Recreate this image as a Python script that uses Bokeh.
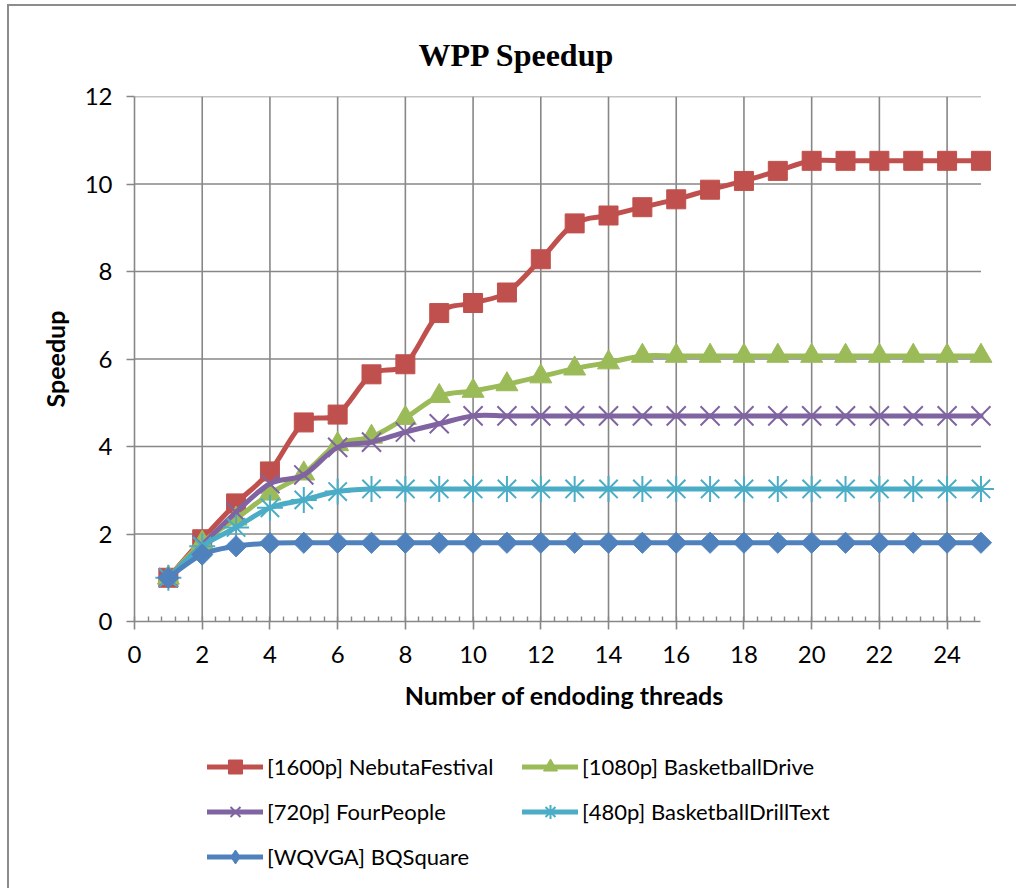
import numpy as np
from bokeh.plotting import figure
from bokeh.layouts import column
from bokeh.models import (Range1d, Legend, LegendItem, FixedTicker,
                          SingleIntervalTicker, Title)
from bokeh.embed import file_html
from bokeh.resources import INLINE

# ---- data -------------------------------------------------------------
threads = [1, 2, 3, 4, 5, 6, 7, 8, 9, 10, 11, 12, 13, 14, 15, 16, 17, 18,
           19, 20, 21, 22, 23, 24, 25]

nebuta_festival = [1.00, 1.88, 2.70, 3.43, 4.55, 4.73, 5.65, 5.88, 7.05, 7.28,
                   7.52, 8.28, 9.10, 9.28, 9.47, 9.65, 9.87, 10.07, 10.30,
                   10.53, 10.53, 10.53, 10.53, 10.53, 10.53]
basketball_drive = [1.00, 1.80, 2.35, 2.92, 3.38, 4.05, 4.22, 4.65, 5.15, 5.27,
                    5.42, 5.60, 5.78, 5.92, 6.07, 6.07, 6.07, 6.07, 6.07, 6.07,
                    6.07, 6.07, 6.07, 6.07, 6.07]
four_people = [1.00, 1.75, 2.50, 3.15, 3.35, 3.98, 4.10, 4.33, 4.52, 4.70,
               4.70, 4.70, 4.70, 4.70, 4.70, 4.70, 4.70, 4.70, 4.70, 4.70,
               4.70, 4.70, 4.70, 4.70, 4.70]
drill_text = [1.00, 1.72, 2.15, 2.60, 2.78, 2.97, 3.03, 3.03, 3.03, 3.03,
              3.03, 3.03, 3.03, 3.03, 3.03, 3.03, 3.03, 3.03, 3.03, 3.03,
              3.03, 3.03, 3.03, 3.03, 3.03]
bq_square = [1.00, 1.53, 1.72, 1.79, 1.80, 1.80, 1.80, 1.80, 1.80, 1.80,
             1.80, 1.80, 1.80, 1.80, 1.80, 1.80, 1.80, 1.80, 1.80, 1.80,
             1.80, 1.80, 1.80, 1.80, 1.80]

series_labels = ["[1600p] NebutaFestival", "[1080p] BasketballDrive",
                 "[720p] FourPeople", "[480p] BasketballDrillText",
                 "[WQVGA] BQSquare"]
series_values = [nebuta_festival, basketball_drive, four_people, drill_text,
                 bq_square]
series_colors = ["#C0504D", "#9BBB59", "#8064A2", "#4BACC6", "#4F81BD"]

x_ticks = [0, 2, 4, 6, 8, 10, 12, 14, 16, 18, 20, 22, 24]
y_ticks = [0, 2, 4, 6, 8, 10, 12]

FONT = "Lato"
GRID = "#878787"


def smooth_segments(xs, ys):
    """Cubic Bezier pieces (Catmull-Rom style) through every data point."""
    x = np.asarray(xs, dtype=float)
    y = np.asarray(ys, dtype=float)
    xp = np.concatenate([[x[0]], x, [x[-1]]])
    yp = np.concatenate([[y[0]], y, [y[-1]]])
    n = len(x) - 1
    idx = np.arange(n)
    cx0 = x[:-1] + (xp[idx + 2] - xp[idx]) / 6.0
    cy0 = y[:-1] + (yp[idx + 2] - yp[idx]) / 6.0
    cx1 = x[1:] - (xp[idx + 3] - xp[idx + 1]) / 6.0
    cy1 = y[1:] - (yp[idx + 3] - yp[idx + 1]) / 6.0
    return dict(x0=x[:-1], y0=y[:-1], x1=x[1:], y1=y[1:],
                cx0=cx0, cy0=cy0, cx1=cx1, cy1=cy1)


# ---- main chart -----------------------------------------------------------
p = figure(frame_width=860, frame_height=525,
           min_border_left=125, min_border_right=22,
           min_border_top=90, min_border_bottom=110,
           x_range=Range1d(0, 25.4), y_range=Range1d(0, 12),
           output_backend="svg", toolbar_location=None,
           background_fill_color="white", border_fill_color="white")
p.outline_line_color = None
p.xgrid.visible = False
p.ygrid.visible = False

p.title = Title(text="WPP Speedup", align="left", offset=284, standoff=48,
                text_font="Liberation Serif", text_font_style="bold",
                text_font_size="32px", text_color="black")

# grid lines limited to the 0..25 span of the category axis
p.segment(x0=x_ticks[1:], y0=0, x1=x_ticks[1:], y1=12,
          line_color=GRID, line_width=1.6)
p.segment(x0=0, y0=y_ticks[1:], x1=25, y1=y_ticks[1:],
          line_color=GRID, line_width=1.6)

xa = p.xaxis[0]
xa.ticker = SingleIntervalTicker(interval=2, num_minor_ticks=5)
xa.bounds = (0, 25)
xa.axis_label = "Number of endoding threads"
xa.axis_label_standoff = 14
xa.major_label_standoff = 16
xa.minor_tick_in = 5
xa.minor_tick_out = 0

ya = p.yaxis[0]
ya.ticker = FixedTicker(ticks=y_ticks)
ya.axis_label = "Speedup"
ya.axis_label_standoff = 12
ya.major_label_standoff = 14

for ax in (xa, ya):
    ax.axis_label_text_font = FONT
    ax.axis_label_text_font_style = "bold"
    ax.axis_label_text_font_size = "25px"
    ax.axis_label_text_color = "black"
    ax.major_label_text_font = FONT
    ax.major_label_text_font_size = "24px"
    ax.major_label_text_color = "black"
    ax.major_tick_in = 0
    ax.major_tick_out = 8
    ax.axis_line_color = GRID
    ax.axis_line_width = 1.6
    ax.major_tick_line_color = GRID
    ax.major_tick_line_width = 1.6
    ax.minor_tick_line_width = 1.4
xa.minor_tick_line_color = GRID
ya.minor_tick_line_color = None

# point markers in the chart and the matching legend keys
markers = [
    dict(marker="square", size=19),
    dict(marker="triangle", size=22),
    dict(marker="x", size=27, line_width=2),
    dict(marker="asterisk", size=26, line_width=2),
    dict(marker="square", size=15, angle=np.pi / 4),
]
key_markers = [
    dict(marker="square"),
    dict(marker="triangle"),
    dict(marker="x", line_width=2),
    dict(marker="asterisk", line_width=2),
    dict(marker="diamond"),
]

for vals, color, mk in zip(series_values, series_colors, markers):
    seg = smooth_segments(threads, vals)
    p.bezier(line_color=color, line_width=5, line_cap="round", **seg)
    style = dict(mk)
    lw = style.pop("line_width", 1)
    p.scatter(threads, vals, fill_color=color, line_color=color,
              line_width=lw, **style)

# ---- legend strip under the chart -------------------------------------------
key_fig = figure(width=1007, height=157, min_border=0,
                 x_range=Range1d(0, 1), y_range=Range1d(0, 1),
                 x_axis_type=None, y_axis_type=None,
                 output_backend="svg", toolbar_location=None,
                 background_fill_color="white", border_fill_color="white")
key_fig.outline_line_color = None
key_fig.grid.visible = False

items = []
for label, vals, color, mk in zip(series_labels, series_values,
                                  series_colors, key_markers):
    style = dict(mk)
    lw = style.pop("line_width", 1)
    # hidden copies of each series; they only supply the legend keys
    key_line = key_fig.line(threads, vals, line_color=color, line_width=5,
                            line_cap="round", visible=False)
    key_mark = key_fig.scatter(threads, vals, fill_color=color,
                               line_color=color, line_width=lw,
                               visible=False, **style)
    items.append(LegendItem(label=label, renderers=[key_line, key_mark]))

legend = Legend(items=items, location=(73, 14), orientation="horizontal",
                ncols=2, glyph_width=56, glyph_height=35, label_standoff=4,
                label_width=245, spacing=10, padding=0, margin=0,
                border_line_color=None, background_fill_alpha=0,
                inactive_fill_alpha=0, label_text_font=FONT,
                label_text_font_size="22px", label_text_color="black")
key_fig.add_layout(legend, "center")

page = column(p, key_fig, spacing=0)
page.margin = (4, 0, 0, 7)
page.styles = {"border-left": "2px solid #8c8c8c",
               "border-top": "2px solid #8c8c8c"}

open("out.html", "w").write(file_html(page, INLINE))
